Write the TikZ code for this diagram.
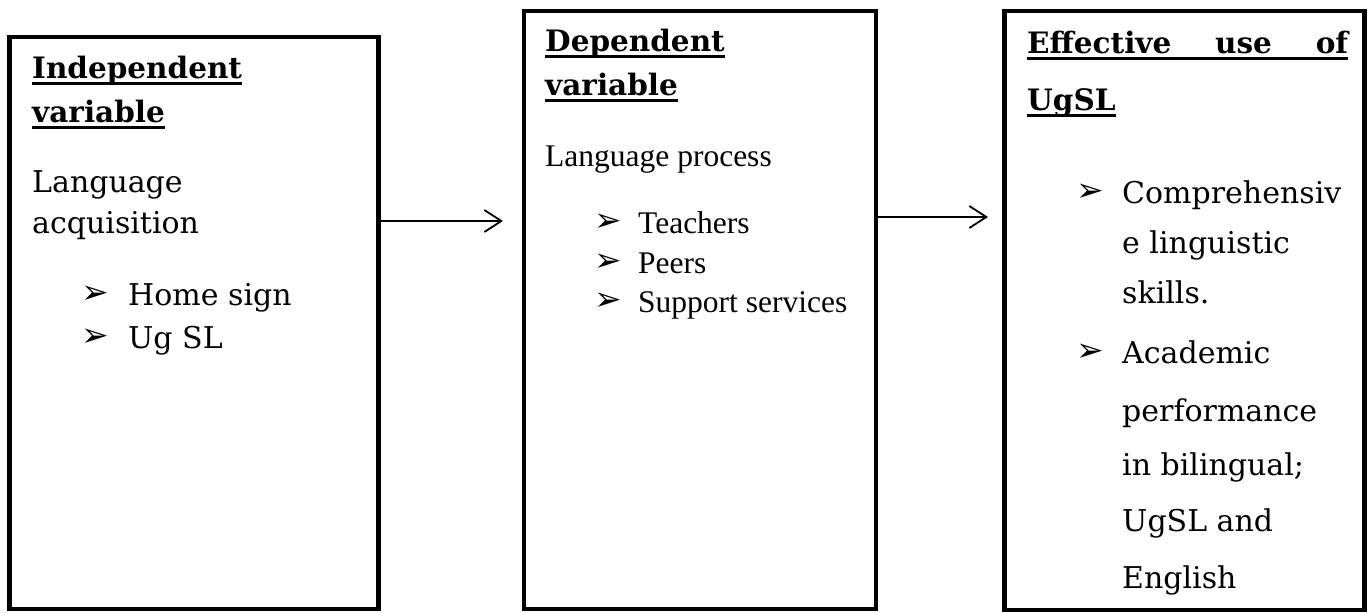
\documentclass[tikz,border=0pt]{standalone}
\usepackage{fontspec}
\usetikzlibrary{arrows.meta}
\newfontfamily\bk{DejaVu Serif}
\newfontfamily\tnr{Liberation Serif}
\newfontfamily\dv{DejaVu Sans}
\newcommand\myul[1]{\setbox0=\hbox{#1}\rlap{\rule[-7pt]{\wd0}{2.6pt}}\box0}
\newcommand\hd{\bk\bfseries\fontsize{29.5}{29.5}\selectfont}
\newcommand\bo{\bk\fontsize{30}{30}\selectfont}
\newcommand\tm{\tnr\fontsize{31.5}{31.5}\selectfont}
\newcommand\bul{\dv\fontsize{33}{33}\selectfont ➢}
\tikzset{
  box/.style={draw, line width=4.5pt, inner sep=0pt, outer sep=0pt, anchor=north west},
  txt/.style={inner sep=0pt, anchor=base west},
  arr/.style={line width=1.6pt, -{Straight Barb[length=17pt,width=22pt,line width=1.8pt]}}
}
\begin{document}
\begin{tikzpicture}[x=1pt,y=-1pt]
\useasboundingbox (0,0) rectangle (1368,613);
% boxes
\node[box, minimum width=369pt, minimum height=572pt] (b1) at (9.5,37) {};
\node[box, minimum width=352pt, minimum height=598pt] (b2) at (524,11) {};
\node[box, minimum width=360pt, minimum height=599pt] (b3) at (1004.5,11) {};
% arrows
\coordinate (a1e) at (503,221);
\coordinate (a2e) at (988,217);
\draw[arr] (b1.east |- a1e) -- (a1e);
\draw[arr] (b2.east |- a2e) -- (a2e);
% box 1 text
\node[txt] (t11) at (32,78) {\hd\myul{Independent}};
\node[txt] (t12) at (32,122) {\hd\myul{variable}};
\node[txt] (t13) at (32,192) {\bo Language};
\node[txt] (t14) at (32,233) {\bo acquisition};
\node[txt] (u11) at (81,303) {\bul};
\node[txt] (t15) at (128,305) {\bo Home sign};
\node[txt] (u12) at (81,346) {\bul};
\node[txt] (t16) at (128,348) {\bo Ug SL};
% box 2 text
\node[txt] (t21) at (545,51) {\hd\myul{Dependent}};
\node[txt] (t22) at (545,95) {\hd\myul{variable}};
\node[txt] (t23) at (545,166) {\tm Language process};
\node[txt] (u21) at (594,231) {\bul};
\node[txt] (t24) at (638,233) {\tm Teachers};
\node[txt] (u22) at (594,271) {\bul};
\node[txt] (t25) at (638,273) {\tm Peers};
\node[txt] (u23) at (594,310) {\bul};
\node[txt] (t26) at (638,312) {\tm Support services};
% box 3 text
\node[txt] (t31) at (1027,53) {\hd\myul{\makebox[321pt][s]{Effective use of}}};
\node[txt] (t32) at (1027,110) {\hd\myul{UgSL}};
\node[txt] (u31) at (1076,201) {\bul};
\node[txt] (t33) at (1122,203) {\bo Comprehensiv};
\node[txt] (t34) at (1122,253) {\bo e linguistic};
\node[txt] (t35) at (1122,303) {\bo skills.};
\node[txt] (u32) at (1076,361) {\bul};
\node[txt] (t36) at (1122,363) {\bo Academic};
\node[txt] (t37) at (1122,421) {\bo performance};
\node[txt] (t38) at (1122,475) {\bo in bilingual;};
\node[txt] (t39) at (1122,531) {\bo UgSL and};
\node[txt] (t310) at (1122,588) {\bo English};
\end{tikzpicture}
\end{document}
